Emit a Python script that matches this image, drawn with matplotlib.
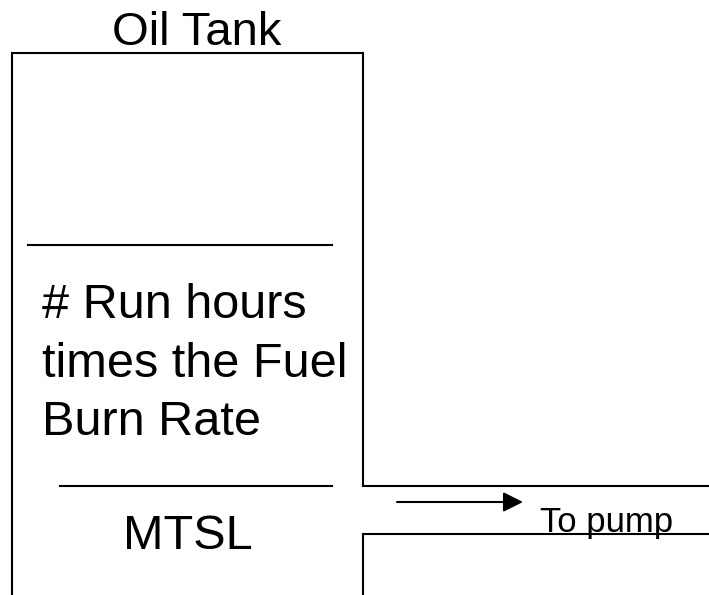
import matplotlib.pyplot as plt

# diagram geometry in pixel units (x right, y down)
tank_outline_x = [12, 12, 363, 363, 709]
tank_outline_y = [595, 53, 53, 486, 486]
pipe_lower_x = [363, 363, 709]
pipe_lower_y = [595, 534, 534]
level_lines = [((28, 332), 245), ((60, 332), 486)]
flow_arrow = ((397, 502), (523, 502))

title = "Oil Tank"
mid_lines = ["# Run hours", "times the Fuel", "Burn Rate"]
mid_baselines = [318, 377, 435]
bottom_label = "MTSL"
pump_label = "To pump"

plt.rcParams['font.family'] = ['Liberation Sans', 'DejaVu Sans']

fig = plt.figure(figsize=(7.09, 5.95), dpi=100)
ax = fig.add_axes([0, 0, 1, 1])
ax.set_xlim(0, 709)
ax.set_ylim(595, 0)
ax.axis('off')

lw = 1.5
ax.plot(tank_outline_x, tank_outline_y, color='black', lw=lw, solid_joinstyle='miter')
ax.plot(pipe_lower_x, pipe_lower_y, color='black', lw=lw, solid_joinstyle='miter')
for (x0, x1), y in level_lines:
    ax.plot([x0, x1], [y, y], color='black', lw=lw)

(ax0, ay0), (ax1, ay1) = flow_arrow
ax.annotate('', xy=(ax1, ay1), xytext=(ax0, ay0),
            arrowprops=dict(arrowstyle='-|>,head_length=0.5,head_width=0.25',
                            color='black', lw=1.5,
                            mutation_scale=24, shrinkA=0, shrinkB=0))

ax.text(197, 45, title, fontsize=34, ha='center', va='baseline')
for txt, yb in zip(mid_lines, mid_baselines):
    ax.text(42, yb, txt, fontsize=35, ha='left', va='baseline')
ax.text(188, 549, bottom_label, fontsize=35, ha='center', va='baseline')
ax.text(540, 532, pump_label, fontsize=25, ha='left', va='baseline')

fig.savefig('out.png', dpi=100)
